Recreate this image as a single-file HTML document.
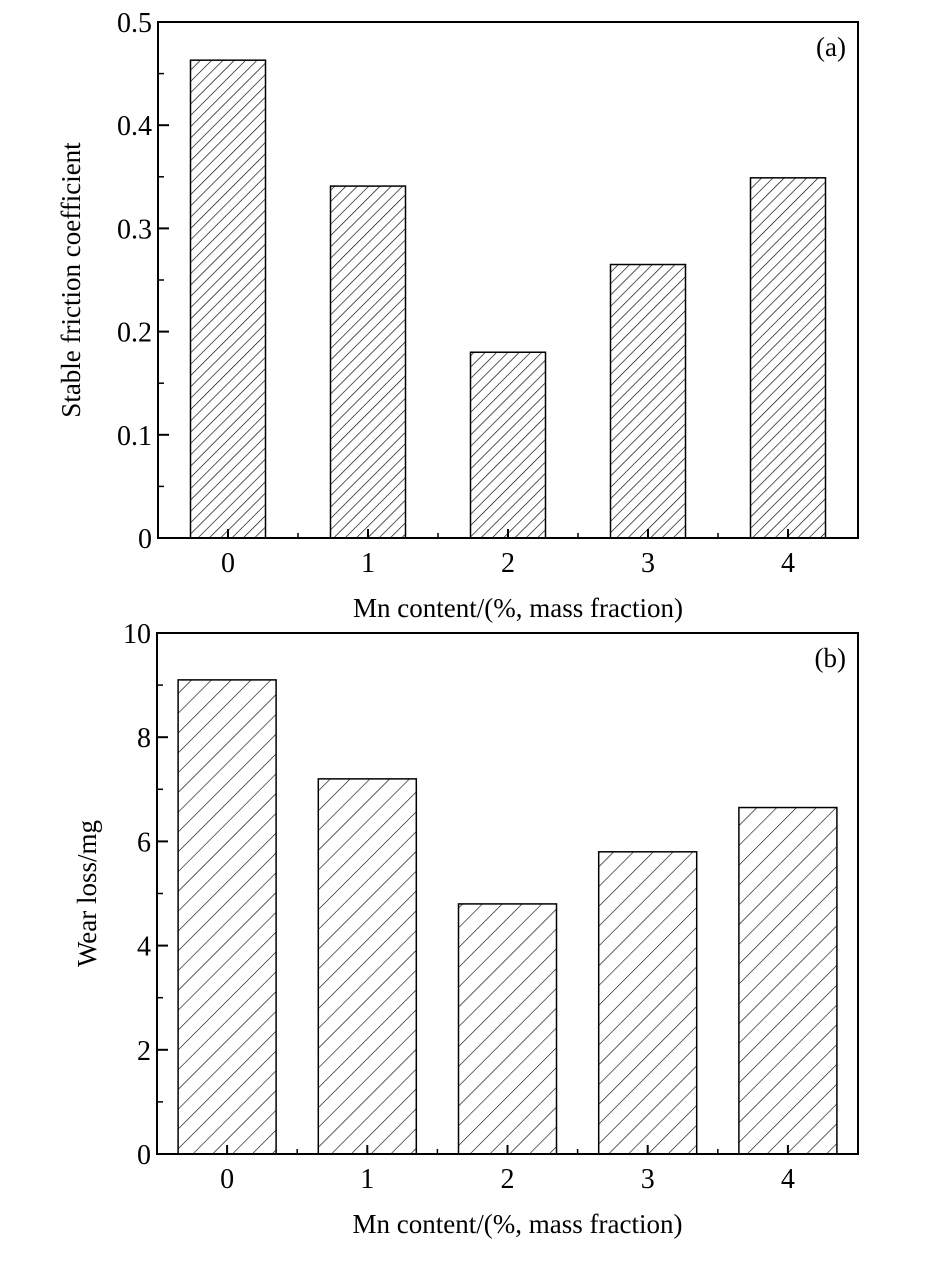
<!DOCTYPE html>
<html><head><meta charset="utf-8"><style>
body{margin:0;background:#fff}
svg text{font-family:"Liberation Serif",serif;fill:#000}
</style></head><body>
<svg width="927" height="1267" viewBox="0 0 927 1267" xmlns="http://www.w3.org/2000/svg">
<defs>
<pattern id="hA" patternUnits="userSpaceOnUse" width="8" height="8" patternTransform="rotate(45)"><line x1="0" y1="0" x2="0" y2="8" stroke="#000" stroke-width="1.3"/></pattern>
<pattern id="hB" patternUnits="userSpaceOnUse" width="14" height="14" patternTransform="rotate(45)"><line x1="0" y1="0" x2="0" y2="14" stroke="#000" stroke-width="1.2"/></pattern>
</defs>
<g id="ga"></g><g id="gb"></g>
</svg>
<script>
const categories=["0","1","2","3","4"];
const frictionValues=[0.463,0.341,0.180,0.265,0.349];
const wearValues=[9.1,7.2,4.8,5.8,6.65];
const frictionTicks=["0","0.1","0.2","0.3","0.4","0.5"];
const wearTicks=["0","2","4","6","8","10"];
const NS="http://www.w3.org/2000/svg";
function mk(p,t,a,txt){const e=document.createElementNS(NS,t);for(const k in a)e.setAttribute(k,a[k]);if(txt!==undefined)e.textContent=txt;p.appendChild(e);return e;}
function chart(g,o){
 const {L,R,T,B,max,ticks,vals,pat,bw,ylab,tag,xlab,xlabY,name}=o;
 const y=v=>B-(v/max)*(B-T);
 const n=categories.length, step=(R-L)/n;
 const x=i=>L+step*(i+0.5);
 vals.forEach((v,i)=>{
  const r=mk(g,"rect",{x:x(i)-bw/2,y:y(v),width:bw,height:B-y(v),fill:"url(#"+pat+")",stroke:"#000","stroke-width":1.5});
  
  
 });
 const ax=mk(g,"rect",{x:L,y:T,width:R-L,height:B-T,fill:"none",stroke:"#000","stroke-width":2});
 
 
 ticks.forEach((t,i)=>{
  const v=max*i/(ticks.length-1), yy=y(v);
  mk(g,"line",{x1:L,y1:yy,x2:L+11,y2:yy,stroke:"#000","stroke-width":2});
  if(i<ticks.length-1){const ym=y(v+max/(ticks.length-1)/2);mk(g,"line",{x1:L,y1:ym,x2:L+6,y2:ym,stroke:"#000","stroke-width":1.5});}
  const tx=mk(g,"text",{x:L-6,y:yy+10,"font-size":28,"text-anchor":"end"},t);
  
  
 });
 categories.forEach((c,i)=>{
  mk(g,"line",{x1:x(i),y1:B,x2:x(i),y2:B-9,stroke:"#000","stroke-width":2});
  mk(g,"line",{x1:L+step*i,y1:B,x2:L+step*i,y2:B-5,stroke:"#000","stroke-width":1.5});
  const tx=mk(g,"text",{x:x(i),y:B+34,"font-size":28,"text-anchor":"middle"},c);
  
  
 });
 const xl=mk(g,"text",{x:(L+R)/2+10,y:xlabY,"font-size":27,"text-anchor":"middle"},xlab);
 
 
 const yl=mk(g,"text",{x:0,y:0,"font-size":27,"text-anchor":"middle",transform:"translate("+(o.ylx)+","+((T+B)/2)+") rotate(-90)"},ylab);
 
 
 const tg=mk(g,"text",{x:R-12,y:T+34,"font-size":27,"text-anchor":"end"},tag);
 
 
}
const ga=document.getElementById('ga');


chart(ga,{L:158,R:858,T:22,B:538,max:0.5,ticks:frictionTicks,vals:frictionValues,pat:"hA",bw:75,ylab:"Stable friction coefficient",tag:"(a)",xlab:"Mn content/(%, mass fraction)",xlabY:617,ylx:80,name:"friction"});
const gb=document.getElementById('gb');


chart(gb,{L:157,R:858,T:633,B:1154,max:10,ticks:wearTicks,vals:wearValues,pat:"hB",bw:98,ylab:"Wear loss/mg",tag:"(b)",xlab:"Mn content/(%, mass fraction)",xlabY:1233,ylx:96,name:"wear"});
</script>
</body></html>
